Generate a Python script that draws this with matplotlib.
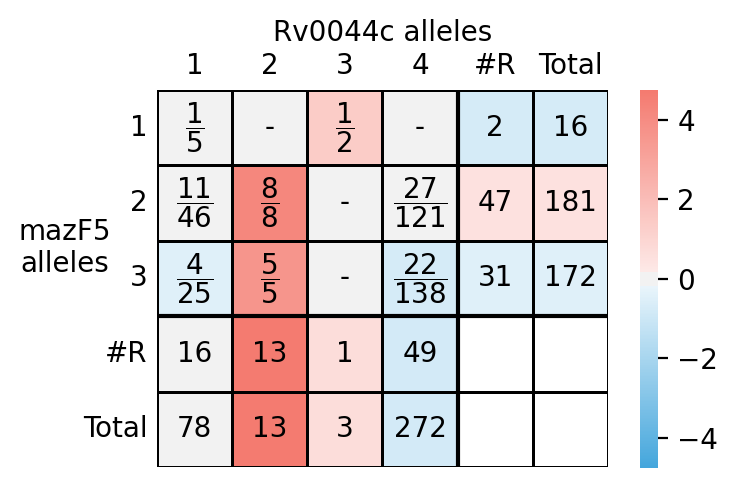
import colorsys
import numpy as np
import matplotlib
matplotlib.use("Agg")
import matplotlib.pyplot as plt
from matplotlib.colors import LinearSegmentedColormap, to_rgb
import seaborn as sns

# table layout
col_labels = ['1', '2', '3', '4', '#R', 'Total']
row_labels = ['1', '2', '3', '#R', 'Total']

# colour score of every cell (nan = empty cell)
scores = np.array([
    [0.0, 0.0, 1.4, 0.0, -0.75, -0.75],
    [0.0, 4.2, 0.0, 0.0, 0.5, 0.5],
    [-0.45, 3.6, 0.0, -0.75, -0.45, -0.45],
    [0.0, 4.7, 0.7, -0.8, np.nan, np.nan],
    [0.0, 4.7, 0.7, -0.8, np.nan, np.nan],
])

# cell texts
cell_text = [
    [r'$\dfrac{1}{5}$', '-', r'$\dfrac{1}{2}$', '-', '2', '16'],
    [r'$\dfrac{11}{46}$', r'$\dfrac{8}{8}$', '-', r'$\dfrac{27}{121}$', '47', '181'],
    [r'$\dfrac{4}{25}$', r'$\dfrac{5}{5}$', '-', r'$\dfrac{22}{138}$', '31', '172'],
    ['16', '13', '1', '49', '', ''],
    ['78', '13', '3', '272', '', ''],
]


def light_of(color):
    # old-style seaborn light_palette end: same hue/sat, lightness .95
    h, l, s = colorsys.rgb_to_hls(*to_rgb(color))
    return colorsys.hls_to_rgb(h, 0.95, s)


neg_col = '#44a6dc'
pos_col = '#f47a6f'
mid_col = (0.95, 0.95, 0.95)
sep = 10 / 256
lo, hi = 0.5 - sep / 2, 0.5 + sep / 2
cmap = LinearSegmentedColormap.from_list('div', [
    (0.0, neg_col), (lo, light_of(neg_col)), (lo, mid_col),
    (hi, mid_col), (hi, light_of(pos_col)), (1.0, pos_col)])

fig = plt.figure(figsize=(3.69, 2.455), dpi=200)
ax = fig.add_axes([0.2127, 0.049, 0.6111, 0.7678])
cax = fig.add_axes([0.867, 0.047, 0.0244, 0.770])

sns.heatmap(scores, ax=ax, cbar_ax=cax, cmap=cmap, vmin=-4.75, vmax=4.75,
            annot=np.array(cell_text), fmt='', annot_kws={'fontsize': 10, 'color': 'black'},
            linewidths=1, linecolor='black',
            xticklabels=col_labels, yticklabels=row_labels)

# grid lines incl. empty cells, thicker ones around the margins
nr, nc = scores.shape
for i in range(nr + 1):
    ax.axhline(i, color='black', lw=1.0)
for j in range(nc + 1):
    ax.axvline(j, color='black', lw=1.0)
ax.axhline(3, color='black', lw=1.5)
ax.axvline(4, color='black', lw=1.5)

ax.xaxis.tick_top()
ax.xaxis.set_label_position('top')
ax.set_xlabel('Rv0044c alleles', fontsize=10)
ax.set_ylabel('mazF5\nalleles', fontsize=10, rotation=0, labelpad=6.5)
ax.tick_params(length=0, labelsize=10)
plt.setp(ax.get_yticklabels(), rotation=0)
plt.setp(ax.get_xticklabels(), rotation=0)

cax.set_yticks([-4, -2, 0, 2, 4])
cax.tick_params(labelsize=10)

fig.savefig('out.png', dpi=200)
